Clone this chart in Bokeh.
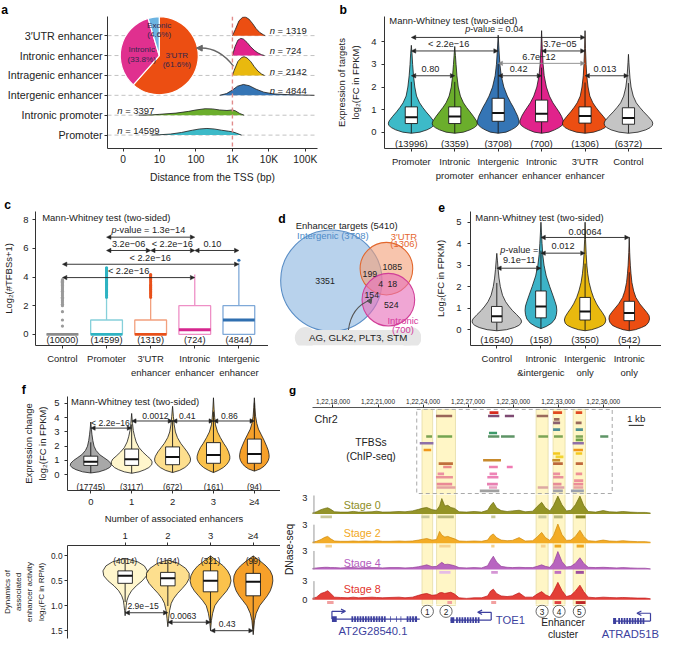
import math
from bokeh.plotting import figure
from bokeh.models import (Range1d, FixedTicker, Label, Arrow, NormalHead, OpenHead, Title,
                          LinearAxis, ColumnDataSource, PrintfTickFormatter, Span)
from bokeh.layouts import row, column
from bokeh.embed import file_html
from bokeh.resources import INLINE
from bokeh.core.properties import value

# ======================= DATA =======================
# ---- panel a ----
a_cats = ["Promoter", "Intronic promoter", "Intergenic enhancer", "Intragenic enhancer",
          "Intronic enhancer", "3′UTR enhancer"]
a_n = [14599, 3397, 4844, 2142, 724, 1319]
a_colors = ["#3DBAC8", "#6BAE2C", "#3575B5", "#E9B90E", "#E1238B", "#EC4E12"]
a_xticks = [0, 1, 2, 3, 4, 5]
a_xtick_labels = ["0", "10", "100", "1K", "10K", "100K"]
a_ridge_x = [
    [0.78, 1.0, 1.3, 1.6, 1.9, 2.1, 2.3, 2.5, 2.7, 2.9, 3.0, 3.1, 3.25],
    [0.43, 0.8, 1.0, 1.45, 1.8, 2.0, 2.25, 2.45, 2.65, 2.85, 3.0, 3.08, 3.2, 3.32],
    [2.65, 2.84, 3.0, 3.14, 3.3, 3.46, 3.65, 3.86, 4.13, 4.5, 4.9, 5.25],
    [3.0, 3.05, 3.15, 3.25, 3.32, 3.4, 3.5, 3.6, 3.7, 3.8, 3.88],
    [3.0, 3.07, 3.15, 3.23, 3.3, 3.4, 3.5, 3.6, 3.7, 3.8, 3.88],
    [3.0, 3.08, 3.18, 3.28, 3.35, 3.45, 3.55, 3.65, 3.75, 3.85, 3.9],
]
a_ridge_h = [
    [0, 0.02, 0.06, 0.15, 0.28, 0.35, 0.38, 0.35, 0.28, 0.22, 0.19, 0.12, 0],
    [0, 0.02, 0.05, 0.12, 0.22, 0.3, 0.37, 0.36, 0.3, 0.27, 0.3, 0.25, 0.1, 0],
    [0, 0.1, 0.3, 0.52, 0.62, 0.55, 0.35, 0.18, 0.08, 0.04, 0.02, 0],
    [0, 0.3, 0.8, 1.02, 1.07, 1.0, 0.8, 0.5, 0.25, 0.08, 0],
    [0, 0.5, 0.88, 0.98, 0.94, 0.75, 0.5, 0.3, 0.15, 0.05, 0],
    [0, 0.35, 0.85, 1.05, 1.07, 0.95, 0.7, 0.4, 0.18, 0.05, 0],
]
pie_labels = ["3′UTR", "Intronic", "Exonic"]
pie_pct = [61.6, 33.8, 4.6]
pie_colors = ["#EC4E12", "#E0308F", "#6CB4E2"]

# ---- panel b ----
b_cats = ["Promoter", "Intronic\npromoter", "Intergenic\nenhancer", "Intronic\nenhancer",
          "3′UTR\nenhancer", "Control"]
b_counts = [13996, 3359, 3708, 700, 1306, 6372]
b_colors = ["#3DBAC8", "#6BAE2C", "#3575B5", "#E1238B", "#EC4E12", "#C4C4C4"]
b_q1 = [0.38, 0.38, 0.48, 0.46, 0.40, 0.35]
b_med = [0.66, 0.69, 0.85, 0.82, 0.72, 0.63]
b_q3 = [1.12, 1.12, 1.50, 1.42, 1.12, 1.08]
b_vy = [
    [-0.05, 0.0, 0.1, 0.2, 0.3, 0.4, 0.5, 0.7, 0.9, 1.1, 1.3, 1.6, 2.0, 2.5, 3.0, 3.5, 3.85],
    [-0.05, 0.0, 0.1, 0.2, 0.3, 0.4, 0.5, 0.7, 0.9, 1.1, 1.3, 1.6, 2.0, 2.5, 3.0, 3.4, 3.8],
    [-0.05, 0.0, 0.1, 0.2, 0.3, 0.4, 0.5, 0.7, 0.9, 1.1, 1.3, 1.6, 2.0, 2.5, 3.0, 3.6, 4.3],
    [-0.05, 0.0, 0.1, 0.2, 0.3, 0.4, 0.5, 0.7, 0.9, 1.1, 1.3, 1.6, 2.0, 2.5, 3.0, 3.7, 4.5],
    [-0.05, 0.0, 0.1, 0.2, 0.3, 0.4, 0.5, 0.7, 0.9, 1.1, 1.3, 1.6, 2.0, 2.5, 3.0, 3.7, 4.5],
    [-0.05, 0.0, 0.1, 0.2, 0.3, 0.4, 0.5, 0.7, 0.9, 1.1, 1.3, 1.6, 2.0, 2.4, 2.8, 3.1, 3.45],
]
b_vw = [
    [0, 0.2, 0.36, 0.46, 0.52, 0.53, 0.51, 0.43, 0.34, 0.26, 0.19, 0.12, 0.08, 0.05, 0.03, 0.015, 0],
    [0, 0.2, 0.35, 0.45, 0.51, 0.52, 0.5, 0.43, 0.35, 0.27, 0.2, 0.13, 0.08, 0.05, 0.03, 0.015, 0],
    [0, 0.18, 0.3, 0.39, 0.45, 0.48, 0.48, 0.45, 0.4, 0.35, 0.29, 0.21, 0.13, 0.07, 0.04, 0.02, 0],
    [0, 0.17, 0.3, 0.4, 0.47, 0.5, 0.5, 0.46, 0.4, 0.33, 0.26, 0.18, 0.11, 0.06, 0.035, 0.015, 0],
    [0, 0.2, 0.36, 0.46, 0.51, 0.52, 0.5, 0.42, 0.33, 0.25, 0.18, 0.11, 0.07, 0.04, 0.025, 0.01, 0],
    [0, 0.22, 0.4, 0.5, 0.55, 0.56, 0.54, 0.45, 0.35, 0.26, 0.18, 0.11, 0.06, 0.035, 0.02, 0.01, 0],
]
b_cmp_x0 = [0, 2, 4, 2, 0, 3, 0]
b_cmp_x1 = [1, 3, 5, 4, 2, 4, 4]
b_cmp_y = [2.5, 2.5, 2.5, 3.05, 3.6, 3.6, 4.2]
b_cmp_col = ["#222222", "#222222", "#222222", "#888888", "#222222", "#222222", "#222222"]
b_cmp_text = ["0.80", "0.42", "0.013", "6.7e−12", "< 2.2e−16", "3.7e−05", "p-value = 0.04"]
b_cmp_lx = [0.44, 2.47, 4.46, 2.94, 0.86, 3.42, 1.9]
b_cmp_ly = [2.78, 2.78, 2.78, 3.33, 3.9, 3.9, 4.56]

# ---- panel c ----
c_cats = ["Control", "Promoter", "3′UTR\nenhancer", "Intronic\nenhancer", "Intergenic\nenhancer"]
c_counts = [10000, 14599, 1319, 724, 4844]
c_q1 = [0, 0, 0, 0, 0]
c_med = [0, 0, 0, 0.32, 1.0]
c_q3 = [0, 1, 1, 2, 2]
c_whi = [0, 2.5, 2.5, 4.17, 5.0]
c_line = ["#9E9E9E", "#86D0DA", "#F2A07E", "#EE90C6", "#7FA9D8"]
c_medc = ["#8C8C8C", "#2FB3C2", "#E8501A", "#D6268E", "#2F6FB0"]
c_out = [
    [0.58, 1.0, 1.58, 2.0, 2.1, 2.2, 2.32, 2.4, 2.5, 2.58, 2.7, 2.81, 2.9, 3.0, 3.1, 3.17, 3.25,
     3.32, 3.4, 3.46, 3.52, 3.58, 3.64, 3.7, 3.75, 3.81],
    [2.58, 2.7, 2.81, 2.9, 3.0, 3.1, 3.17, 3.25, 3.32, 3.4, 3.46, 3.52, 3.58, 3.64, 3.7, 3.75,
     3.81, 3.87, 3.91, 3.95, 4.0, 4.09, 4.17, 4.25, 4.32, 4.39, 4.46, 4.52, 4.58, 4.64],
    [2.58, 2.7, 2.81, 2.9, 3.0, 3.1, 3.17, 3.25, 3.32, 3.4, 3.46, 3.58, 3.7, 3.81, 3.91, 4.0,
     4.09, 4.17],
    [],
    [5.17],
]
c_cmp_x0 = [0, 0, 1, 2, 3, 1]
c_cmp_x1 = [3, 4, 2, 3, 4, 3]
c_cmp_y = [3.96, 4.89, 5.85, 5.85, 5.85, 6.78]
c_cmp_text = ["< 2.2e−16", "< 2.2e−16", "3.2e−06", "< 2.2e−16", "0.10", "p-value = 1.3e−14"]
c_cmp_lx = [1.5, 1.99, 1.5, 2.49, 3.4, 1.94]
c_cmp_ly = [4.39, 5.3, 6.28, 6.28, 6.28, 7.27]

# ---- panel d ----
d_sets = ["Intergenic (3708)", "3′UTR\n(1306)", "Intronic\n(700)"]
d_fill = ["#8DB6E0", "#F4A27A", "#E670BA"]
d_edge = ["#5A8EC6", "#E2682E", "#D13F98"]
d_text_col = ["#4E8BC8", "#E5662E", "#D6379C"]
d_counts = [3351, 199, 1085, 4, 18, 154, 524]
d_genes = "AG, GLK2, PLT3, STM"

# ---- panel e ----
e_cats = ["Control", "Intronic\n&intergenic", "Intergenic\nonly", "Intronic\nonly"]
e_counts = [16540, 158, 3550, 542]
e_colors = ["#C4C4C4", "#3DB3C8", "#E9B90E", "#EC4E12"]
e_q1 = [0.35, 0.55, 0.45, 0.42]
e_med = [0.62, 1.08, 0.85, 0.78]
e_q3 = [1.08, 1.8, 1.5, 1.32]
e_vy = [
    [-0.05, 0.0, 0.1, 0.2, 0.3, 0.4, 0.5, 0.7, 0.9, 1.1, 1.3, 1.6, 2.0, 2.4, 2.8, 3.2, 3.55],
    [0.05, 0.15, 0.3, 0.5, 0.7, 0.9, 1.1, 1.3, 1.6, 2.0, 2.5, 3.0, 3.5, 4.0, 4.5, 5.0],
    [-0.05, 0.0, 0.1, 0.2, 0.3, 0.45, 0.6, 0.8, 1.0, 1.2, 1.5, 1.8, 2.2, 2.6, 3.0, 3.5, 4.2, 5.0],
    [-0.05, 0.0, 0.1, 0.2, 0.35, 0.5, 0.65, 0.8, 1.0, 1.2, 1.5, 1.8, 2.2, 2.6, 3.0, 3.6, 4.3],
]
e_vw = [
    [0, 0.22, 0.4, 0.5, 0.55, 0.56, 0.54, 0.45, 0.35, 0.27, 0.2, 0.13, 0.08, 0.05, 0.03, 0.015, 0],
    [0, 0.12, 0.24, 0.32, 0.35, 0.36, 0.35, 0.32, 0.27, 0.2, 0.12, 0.07, 0.04, 0.025, 0.012, 0],
    [0, 0.15, 0.3, 0.4, 0.45, 0.47, 0.45, 0.39, 0.32, 0.26, 0.19, 0.14, 0.09, 0.06, 0.04, 0.025, 0.01, 0],
    [0, 0.14, 0.28, 0.38, 0.44, 0.46, 0.45, 0.4, 0.32, 0.24, 0.15, 0.1, 0.06, 0.04, 0.025, 0.01, 0],
]
e_cmp_x0 = [0, 1, 1]
e_cmp_x1 = [1, 2, 3]
e_cmp_y = [2.86, 3.56, 4.29]
e_cmp_text = ["9.1e−11", "0.012", "0.00064"]
e_cmp_lx = [0.51, 1.5, 2.0]
e_cmp_ly = [3.25, 3.87, 4.55]

# ---- panel f (top) ----
f_cats = ["0", "1", "2", "3", "≥4"]
f_counts = [17745, 3117, 672, 161, 94]
f_colors = ["#A8A8A8", "#FFF6CC", "#FDDF8E", "#FBC24C", "#F6A02A"]
f_q1 = [0.65, 0.65, 0.7, 0.8, 0.8]
f_med = [0.9, 1.08, 1.25, 1.38, 1.45]
f_q3 = [1.3, 1.8, 1.95, 2.25, 2.5]
f_vy = [
    [0.12, 0.2, 0.35, 0.5, 0.65, 0.8, 1.0, 1.2, 1.4, 1.7, 2.0, 2.4, 2.8, 3.2, 3.7],
    [0.1, 0.2, 0.35, 0.5, 0.7, 0.9, 1.1, 1.3, 1.6, 1.9, 2.3, 2.7, 3.1, 3.6, 4.3],
    [0.15, 0.3, 0.5, 0.7, 0.9, 1.1, 1.3, 1.6, 1.9, 2.2, 2.6, 3.0, 3.5, 4.1, 4.8],
    [0.15, 0.3, 0.5, 0.7, 0.9, 1.1, 1.3, 1.6, 1.9, 2.2, 2.6, 3.0, 3.5, 4.0, 4.6, 5.4],
    [0.25, 0.4, 0.6, 0.8, 1.0, 1.2, 1.4, 1.7, 2.0, 2.4, 2.8, 3.2, 3.6, 4.1, 4.7, 5.4],
]
f_vw = [
    [0, 0.2, 0.36, 0.46, 0.5, 0.49, 0.42, 0.32, 0.22, 0.13, 0.08, 0.05, 0.03, 0.015, 0],
    [0, 0.18, 0.32, 0.42, 0.49, 0.5, 0.46, 0.38, 0.27, 0.18, 0.11, 0.07, 0.04, 0.02, 0],
    [0, 0.17, 0.3, 0.38, 0.43, 0.44, 0.42, 0.36, 0.28, 0.2, 0.12, 0.07, 0.04, 0.02, 0],
    [0, 0.12, 0.24, 0.32, 0.37, 0.4, 0.4, 0.37, 0.32, 0.25, 0.17, 0.1, 0.05, 0.03, 0.015, 0],
    [0, 0.14, 0.24, 0.3, 0.34, 0.36, 0.36, 0.34, 0.3, 0.24, 0.17, 0.1, 0.06, 0.03, 0.015, 0],
]
f_cmp_x0 = [0, 1, 2, 3]
f_cmp_x1 = [1, 2, 3, 4]
f_cmp_y = [3.27, 3.77, 3.77, 3.77]
f_cmp_text = ["< 2.2e−16", "0.0012", "0.41", "0.86"]
f_cmp_lx = [0.48, 1.58, 2.36, 3.39]
f_cmp_ly = [3.62, 4.12, 4.12, 4.12]

# ---- panel f (bottom) ----
fb_x = [1, 2, 3, 4]
fb_cats = ["1", "2", "3", "≥4"]
fb_counts = [4014, 1134, 321, 99]
fb_colors = ["#FFF6CC", "#FDDF8E", "#FBC24C", "#F6A02A"]
fb_q1 = [0.3, 0.33, 0.3, 0.35]
fb_med = [0.4, 0.45, 0.5, 0.52]
fb_q3 = [0.55, 0.6, 0.72, 0.8]
fb_vy = [
    [0.05, 0.12, 0.2, 0.3, 0.4, 0.5, 0.6, 0.7, 0.8, 0.9, 1.0, 1.1, 1.2],
    [0.08, 0.15, 0.25, 0.35, 0.45, 0.55, 0.65, 0.75, 0.85, 0.95, 1.1, 1.25, 1.42],
    [0.0, 0.1, 0.2, 0.3, 0.4, 0.5, 0.6, 0.7, 0.8, 0.9, 1.0, 1.15, 1.3, 1.5],
    [0.0, 0.1, 0.2, 0.3, 0.4, 0.5, 0.6, 0.7, 0.8, 0.9, 1.0, 1.15, 1.3, 1.58],
]
fb_vw = [
    [0, 0.3, 0.45, 0.52, 0.5, 0.4, 0.26, 0.15, 0.08, 0.04, 0.025, 0.012, 0],
    [0, 0.25, 0.42, 0.5, 0.5, 0.44, 0.34, 0.23, 0.14, 0.08, 0.04, 0.02, 0],
    [0, 0.15, 0.3, 0.4, 0.46, 0.48, 0.45, 0.38, 0.28, 0.18, 0.1, 0.05, 0.02, 0],
    [0, 0.16, 0.3, 0.4, 0.45, 0.46, 0.44, 0.4, 0.33, 0.24, 0.15, 0.07, 0.03, 0],
]
fb_cmp_x0 = [1, 2, 3]
fb_cmp_x1 = [2, 3, 4]
fb_cmp_y = [1.14, 1.33, 1.5]
fb_cmp_text = ["2.9e−15", "0.0063", "0.43"]
fb_cmp_lx = [1.42, 2.36, 3.39]
fb_cmp_ly = [1.0, 1.2, 1.36]

# ---- panel g ----  (positions in kb on chr2)
g_ticks = [12218, 12221, 12224, 12227, 12230, 12233, 12236]
g_tick_labels = ["1,22,18,000", "1,22,21,000", "1,22,24,000", "1,22,27,000",
                 "1,22,30,000", "1,22,33,000", "1,22,36,000"]
g_hl_start = [12223.93, 12224.90, 12231.53, 12232.66, 12234.00]
g_hl_end = [12224.64, 12226.16, 12232.33, 12233.46, 12234.82]
tf_lane = [0, 0, 0, 1, 1, 1, 1, 2, 3, 3, 5, 5, 6,
           7, 7, 7, 7, 7, 7, 7, 7, 8, 9, 9, 11, 11, 12, 12, 13, 14, 14, 15, 15, 15,
           16, 16, 16, 18, 18, 18, 18, 19, 19, 19, 20, 21, 21, 21, 21,
           22, 22, 22, 22, 22, 23, 23, 23]
tf_start = [12228.43, 12232.66, 12234.17, 12224.86, 12228.33, 12229.45, 12231.57, 12232.72,
            12232.66, 12234.17, 12232.66, 12234.17, 12228.39,
            12224.21, 12224.97, 12228.33, 12229.19, 12231.68, 12232.72, 12234.17, 12235.80,
            12234.17, 12223.78, 12233.96, 12224.04, 12234.02, 12232.66, 12234.17, 12232.83,
            12228.00, 12232.61, 12225.04, 12232.66, 12234.17,
            12225.34, 12228.39, 12229.58, 12224.97, 12228.43, 12232.66, 12234.17,
            12224.86, 12228.28, 12232.66, 12234.06, 12224.91, 12228.26, 12232.66, 12234.02,
            12224.91, 12228.39, 12231.64, 12232.66, 12234.02, 12227.78, 12232.66, 12233.85]
tf_end = [12229.02, 12233.26, 12234.60, 12225.94, 12229.08, 12230.06, 12232.33, 12233.09,
          12233.13, 12234.56, 12233.13, 12234.65, 12228.93,
          12224.60, 12225.94, 12229.08, 12230.10, 12232.33, 12233.31, 12234.65, 12236.34,
          12234.65, 12224.69, 12234.71, 12224.54, 12234.65, 12233.13, 12234.60, 12233.35,
          12229.19, 12233.13, 12225.99, 12233.31, 12234.65,
          12225.90, 12228.98, 12229.97, 12225.40, 12228.93, 12233.13, 12234.60,
          12225.99, 12229.02, 12233.35, 12234.67, 12225.94, 12228.98, 12233.22, 12234.67,
          12226.16, 12228.93, 12232.33, 12233.41, 12234.67, 12229.08, 12233.31, 12234.71]
tf_color = ["#D62B1F", "#E04A22", "#E04A22", "#9A6558", "#7E4C74", "#7E4A72", "#9A6A5C", "#9A6A5C",
            "#8A6070", "#9A6A5C", "#4E8E96", "#4E9090", "#3E9A6A",
            "#7AA252", "#74A450", "#5E9466", "#5E9466", "#7CA456", "#7CA456", "#7CA456", "#5E9466",
            "#70A448", "#8E70A8", "#9070A8", "#F0961A", "#F0961A", "#F4C820", "#F4C820", "#F2D430",
            "#C88A2C", "#C8902C", "#C0703C", "#BC683C", "#C0683C",
            "#EC8C8C", "#EE80B0", "#F07AB2", "#EC90A2", "#EE84B6", "#EC90A0", "#EE9096",
            "#EA929A", "#EC80B6", "#E8909C", "#EE909A", "#EA8A96", "#E880B2", "#E68C98", "#EC8C98",
            "#E4A2A2", "#E8A2C2", "#DCA8A2", "#DCA2AA", "#E8A2A2", "#A0A0A0", "#A2A2AA", "#9CA2B0"]

trk_names = ["Stage 0", "Stage 2", "Stage 4", "Stage 8"]
trk_fill = ["#8E8E1E", "#F2A81C", "#B45CBE", "#E2352E"]
trk_edge = ["#6E6E10", "#D08A08", "#944098", "#C01818"]
trk_pos = [12216.6, 12216.9, 12217.2, 12217.45, 12217.65, 12217.85, 12218.1, 12218.5, 12219.0,
           12219.35, 12219.7, 12220.2, 12220.6, 12220.9, 12221.3, 12221.8, 12222.4, 12222.8,
           12223.3, 12223.7, 12224.0, 12224.25, 12224.6, 12224.9, 12225.1, 12225.25, 12225.45,
           12225.65, 12225.85, 12226.1, 12226.4, 12226.9, 12227.4, 12227.9, 12228.3, 12228.5,
           12228.68, 12228.9, 12229.2, 12229.6, 12229.95, 12230.4, 12230.8, 12231.3, 12231.6,
           12231.9, 12232.15, 12232.45, 12232.7, 12232.98, 12233.25, 12233.55, 12233.85,
           12234.15, 12234.45, 12234.7, 12235.0, 12235.5, 12236.0, 12236.4, 12236.9, 12237.3,
           12237.8, 12238.3, 12238.8, 12239.15]
trk_s0 = [0.15, 0.35, 0.7, 0.9, 1.0, 0.75, 0.35, 0.3, 0.3, 0.42, 0.3, 0.32, 0.35, 0.45, 0.3, 0.32,
          0.4, 0.35, 0.5, 0.75, 0.95, 1.05, 0.7, 0.6, 1.3, 2.5, 1.3, 1.4, 1.05, 0.9, 0.35, 0.3,
          0.4, 0.3, 0.6, 1.4, 1.9, 1.0, 0.55, 0.4, 0.5, 0.6, 0.35, 0.45, 1.2, 1.9, 1.0, 0.5,
          1.4, 2.9, 1.5, 0.5, 0.6, 1.5, 2.9, 1.4, 0.4, 0.3, 0.55, 0.35, 0.3, 0.4, 0.3, 0.25,
          0.25, 0.15]
trk_s2 = [0.15, 0.3, 0.6, 0.95, 1.1, 0.7, 0.35, 0.3, 0.3, 0.35, 0.3, 0.35, 0.3, 0.4, 0.3, 0.3,
          0.35, 0.3, 0.35, 0.5, 0.65, 0.75, 0.5, 0.6, 1.9, 1.3, 1.0, 1.1, 0.9, 0.7, 0.35, 0.3,
          0.35, 0.3, 0.5, 1.2, 1.5, 0.9, 0.5, 0.4, 0.45, 0.9, 0.35, 0.4, 1.0, 1.75, 0.9, 0.45,
          1.3, 3.1, 1.4, 0.45, 0.5, 1.1, 2.1, 1.1, 0.4, 0.3, 0.5, 0.35, 0.3, 0.4, 0.3, 0.25,
          0.25, 0.15]
trk_s4 = [0.15, 0.25, 0.3, 0.35, 0.35, 0.3, 0.3, 0.25, 0.3, 0.3, 0.25, 0.3, 0.3, 0.3, 0.25, 0.3,
          0.3, 0.25, 0.3, 0.45, 0.6, 0.75, 0.45, 0.5, 0.9, 1.15, 0.8, 0.85, 0.75, 0.6, 0.3, 0.25,
          0.3, 0.25, 0.6, 1.5, 2.15, 1.2, 0.5, 0.35, 0.3, 0.35, 0.3, 0.3, 0.5, 0.75, 0.5, 0.35,
          1.1, 2.9, 1.3, 0.4, 0.5, 1.0, 1.9, 1.0, 0.35, 0.3, 0.35, 0.3, 0.25, 0.3, 0.25, 0.2,
          0.2, 0.1]
trk_s8 = [0.2, 0.4, 1.0, 1.2, 1.45, 1.0, 0.4, 0.35, 0.3, 0.4, 0.3, 0.35, 0.4, 0.35, 0.3, 0.35,
          0.4, 0.3, 0.4, 0.7, 0.9, 1.0, 0.7, 0.8, 1.1, 1.15, 1.0, 1.1, 1.2, 0.9, 0.3, 0.2,
          0.3, 0.3, 0.6, 1.4, 1.7, 1.0, 0.6, 0.5, 0.6, 1.1, 0.4, 0.4, 0.9, 1.3, 0.8, 0.45,
          1.4, 2.8, 1.5, 0.5, 0.7, 1.4, 2.35, 1.3, 0.4, 0.3, 0.4, 0.35, 0.3, 0.35, 0.3, 0.25,
          0.25, 0.15]
trk_vals = [trk_s0, trk_s2, trk_s4, trk_s8]
blk_track = [0, 0, 0, 0, 0, 0, 0, 1, 1, 1, 1, 1, 1, 2, 2, 2, 2, 3, 3, 3, 3, 3]
blk_start = [12217.17, 12223.89, 12224.97, 12228.54, 12231.68, 12232.72, 12234.17,
             12217.50, 12225.08, 12228.54, 12231.85, 12232.76, 12234.23,
             12225.08, 12228.54, 12232.76, 12234.17,
             12217.61, 12225.62, 12228.54, 12232.76, 12234.17]
blk_end = [12217.93, 12224.43, 12226.05, 12228.82, 12232.22, 12233.30, 12234.82,
           12217.93, 12225.83, 12228.76, 12232.16, 12233.20, 12234.71,
           12225.83, 12228.98, 12233.20, 12234.71,
           12218.04, 12225.93, 12228.87, 12233.20, 12234.82]
blk_color = ["#C9C99A", "#C9C99A", "#B8B87A", "#C9C99A", "#C9C99A", "#B8B87A", "#8C8C2A",
             "#F6D28E", "#F6D28E", "#F6D28E", "#F6D28E", "#F0A820", "#F0A820",
             "#E6BCE6", "#D596D5", "#C070C0", "#9E4E9E",
             "#F2A0A0", "#F2A0A0", "#F2A0A0", "#E04040", "#C02828"]

gene_names = ["AT2G28540.1", "TOE1", "ATRAD51B"]
gene_start = [12217.93, 12225.83, 12236.66]
gene_end = [12223.78, 12228.54, 12239.15]
gene_strand = [1, -1, -1]
gene_exons = [
    [(12217.93, 12218.25), (12219.23, 12219.35), (12219.41, 12219.53), (12219.59, 12219.71),
     (12219.77, 12219.89), (12219.95, 12220.07), (12220.13, 12220.25), (12220.31, 12220.43),
     (12220.49, 12220.61), (12220.67, 12220.79), (12220.85, 12220.97), (12221.03, 12221.15),
     (12221.21, 12221.33), (12221.39, 12221.51), (12221.80, 12221.85), (12222.20, 12222.25),
     (12222.50, 12222.55), (12222.91, 12223.03), (12223.09, 12223.21), (12223.27, 12223.39),
     (12223.45, 12223.60)],
    [(12225.83, 12226.08), (12226.20, 12226.32), (12226.38, 12226.50), (12226.56, 12226.68),
     (12226.74, 12226.86), (12226.92, 12227.04), (12227.10, 12227.22), (12227.28, 12227.40),
     (12227.46, 12227.58), (12227.64, 12227.76)],
    [(12236.66, 12236.86), (12237.00, 12237.12), (12237.18, 12237.30), (12237.36, 12237.48),
     (12237.54, 12237.66), (12237.72, 12237.84), (12237.90, 12238.02), (12238.08, 12238.20),
     (12238.26, 12238.38), (12238.44, 12238.56), (12238.62, 12238.74)],
]

# ======================= HELPERS =======================
S = 641 / 657
FONT = "Liberation Sans"
INK = "#222222"


def fs(px):
    return f"{px * S:.2f}px"


CW = {' ': .278, '.': .278, '-': .333, '=': .584, '<': .584, '−': .584, 'l': .222, 'i': .222,
      '(': .333, ')': .333, 'v': .5, 'e': .556, 'a': .556, 'u': .556}


def tw(s):
    return sum(CW.get(c, .556) for c in s)


def style_ax(ax, size=9.7):
    ax.axis_line_color = "#333333"
    ax.axis_line_width = 1
    ax.major_tick_line_color = "#333333"
    ax.major_tick_out = 3
    ax.major_tick_in = 0
    ax.minor_tick_line_color = None
    ax.major_label_text_font = FONT
    ax.major_label_text_font_size = fs(size)
    ax.major_label_text_color = INK
    ax.major_label_standoff = 2
    ax.axis_label_text_font = FONT
    ax.axis_label_text_font_style = "normal"
    ax.axis_label_text_font_size = fs(9.7)
    ax.axis_label_text_color = INK
    ax.axis_label_standoff = 4


class Pan:
    def __init__(self, ox, oy, W, H, fl, fr, ft, fb, xr, yr, xloc="below", yloc="left"):
        self.fl, self.fr, self.ft, self.fb = fl, fr, ft, fb
        self.xr, self.yr = xr, yr
        p = figure(width=round(W * S), height=round(H * S),
                   x_range=Range1d(*xr), y_range=Range1d(*yr),
                   min_border_left=round((fl - ox) * S), min_border_right=round((ox + W - fr) * S),
                   min_border_top=round((ft - oy) * S), min_border_bottom=round((oy + H - fb) * S),
                   x_axis_location=xloc, y_axis_location=yloc,
                   output_backend="svg", toolbar_location=None)
        p.grid.visible = False
        p.outline_line_color = None
        for ax in list(p.xaxis) + list(p.yaxis):
            style_ax(ax)
        self.p = p

    def X(self, px):
        return self.xr[0] + (px - self.fl) * (self.xr[1] - self.xr[0]) / (self.fr - self.fl)

    def Y(self, py):
        return self.yr[0] + (self.fb - py) * (self.yr[1] - self.yr[0]) / (self.fb - self.ft)

    def dX(self, dpx):
        return dpx * (self.xr[1] - self.xr[0]) / (self.fr - self.fl)


def lab(pn, x, y, text, size=9.7, color=INK, align="center", baseline="middle", angle=0.0,
        style="normal"):
    pn.p.add_layout(Label(x=x, y=y, text=text, text_font=FONT, text_font_size=fs(size),
                          text_color=color, text_align=align, text_baseline=baseline,
                          angle=angle, text_font_style=style))


def ilab(pn, x, y, first, rest, size=9.4, align="center", color=INK):
    lead = len(rest) - len(rest.lstrip(" "))
    body = rest.lstrip(" ")
    w1 = (tw(first) + lead * 0.278) * size
    wt = w1 + tw(body) * size
    x0 = x - pn.dX(wt / 2) if align == "center" else x
    lab(pn, x0, y, first, size, color, align="left", style="italic")
    lab(pn, x0 + pn.dX(w1), y, body, size, color, align="left")


def letter_title(pn, gx, t, size=12.5):
    tt = pn.p.title
    tt.text = t
    tt.align = "left"
    tt.offset = (gx - pn.fl) * S
    tt.text_font = FONT
    tt.text_font_size = fs(size)
    tt.text_font_style = "bold"
    tt.text_color = "#000000"
    tt.standoff = 0


def left_title(pn, text, size=9.7, standoff=1):
    pn.p.add_layout(Title(text=text, align="center", text_font=FONT, text_font_size=fs(size),
                          text_font_style="normal", text_color=INK, standoff=standoff), "left")


def cat_axes(pn, xs, cats, size=9.7, standoff=4):
    l1 = {x: c.split("\n")[0] for x, c in zip(xs, cats)}
    l2 = {x: (c.split("\n")[1] if "\n" in c else "") for x, c in zip(xs, cats)}
    ax = pn.p.xaxis[0]
    ax.ticker = FixedTicker(ticks=xs)
    ax.major_label_overrides = l1
    ax.major_label_standoff = standoff
    ax2 = LinearAxis(ticker=FixedTicker(ticks=xs), major_label_overrides=l2)
    style_ax(ax2, size)
    ax2.axis_line_color = None
    ax2.major_tick_line_color = None
    ax2.major_tick_out = 0
    ax2.major_label_standoff = 0
    pn.p.add_layout(ax2, "below")


def draw_violins(pn, xs, vys, vws, q1, med, q3, colors, bw):
    p = pn.p
    pxs = [[x + w for w in vw] + [x - w for w in vw[::-1]] for x, vw in zip(xs, vws)]
    pys = [list(vy) + list(vy[::-1]) for vy in vys]
    p.patches(pxs, pys, fill_color=colors, line_color="#1A1A1A", line_width=0.8)
    lo = [max(min(vy), a - 1.5 * (b - a)) for vy, a, b in zip(vys, q1, q3)]
    hi = [min(max(vy), b + 1.5 * (b - a)) for vy, a, b in zip(vys, q1, q3)]
    p.segment(x0=xs, y0=lo, x1=xs, y1=q1, line_color="#1A1A1A", line_width=0.9)
    p.segment(x0=xs, y0=q3, x1=xs, y1=hi, line_color="#1A1A1A", line_width=0.9)
    p.quad(left=[x - bw for x in xs], right=[x + bw for x in xs], bottom=q1, top=q3,
           fill_color="white", line_color="#1A1A1A", line_width=0.9)
    p.segment(x0=[x - bw for x in xs], y0=med, x1=[x + bw for x in xs], y1=med,
              line_color="#111111", line_width=2)


def draw_cmp(pn, x0, x1, y, colors=None):
    if colors is None:
        colors = ["#222222"] * len(x0)
    for col in sorted(set(colors)):
        idx = [i for i, c in enumerate(colors) if c == col]
        src = ColumnDataSource(dict(x0=[x0[i] for i in idx], x1=[x1[i] for i in idx],
                                    y=[y[i] for i in idx]))
        hs = 4.5 * S
        pn.p.add_layout(Arrow(source=src, x_start="x0", y_start="y", x_end="x1", y_end="y",
                              line_color=col, line_width=0.9,
                              start=NormalHead(size=hs, fill_color=col, line_color=col, line_width=0.5),
                              end=NormalHead(size=hs, fill_color=col, line_color=col, line_width=0.5)))


def cmp_labels(pn, lx, ly, texts, size=9.4):
    for x, y, t in zip(lx, ly, texts):
        if t.startswith("p-value"):
            ilab(pn, x, y, "p", t[1:], size)
        else:
            lab(pn, x, y, t, size)


def draw_counts(pn, xs, counts, ypx, size=9.5):
    pn.p.text(x=xs, y=[pn.Y(ypx)] * len(xs), text=[f"({c})" for c in counts],
              text_font=value(FONT), text_font_size=value(fs(size)), text_color=INK,
              text_align="center", text_baseline="middle")


# ======================= PANEL A =======================
A = Pan(0, 0, 340, 200, 110, 325, 15, 153, (-0.429, 5.335), (-0.673, 5.962))
RIDGE_SCALE = 0.88
pa = A.p
rows = list(range(len(a_cats)))
pa.segment(x0=[A.xr[0]] * 6, y0=rows, x1=[A.xr[1]] * 6, y1=rows,
           line_color="#BBBBBB", line_dash="4 3", line_width=0.9)
for i in reversed(rows):
    ys = [i + RIDGE_SCALE * h for h in a_ridge_h[i]]
    pa.patch(a_ridge_x[i], ys, fill_color=a_colors[i], line_color=None)
    pa.line(a_ridge_x[i], ys, line_color="#1A1A1A", line_width=0.8)
pa.add_layout(Span(location=3, dimension="height", line_color="#E08C8C", line_dash="4 3",
                   line_width=1.4))
cum = 0.0
w_start, w_end = [], []
for pct in pie_pct:
    w_start.append(math.pi / 2 - 2 * math.pi * cum / 100)
    cum += pct
    w_end.append(math.pi / 2 - 2 * math.pi * cum / 100)
pa.wedge(x=A.X(163), y=A.Y(56), radius=40 * S, radius_units="screen", start_angle=w_start,
         end_angle=w_end, direction="clock", fill_color=pie_colors, line_color="white",
         line_width=1.2)
pie_lab_pos = [(181, 56), (145, 50), (163, 24)]
for (gx, gy), name, pct in zip(pie_lab_pos, pie_labels, pie_pct):
    lab(A, A.X(gx), A.Y(gy), name, 8.3, "#33264D")
    lab(A, A.X(gx), A.Y(gy + 9.5), f"({pct}%)", 8.3, "#33264D")
pa.quadratic(x0=A.X(239), y0=A.Y(67), x1=A.X(204), y1=A.Y(48), cx=A.X(224), cy=A.Y(47),
             line_color="#666666", line_width=1.3)
pa.add_layout(Arrow(x_start=A.X(206), y_start=A.Y(48.1), x_end=A.X(201), y_end=A.Y(48),
                    line_alpha=0, end=NormalHead(size=6 * S, fill_color="#666666",
                                                 line_color="#666666")))
a_n_pos = [(120, 134), (120, 113), (276, 92), (276, 72), (276, 51), (276, 30)]
for (gx, gy), n in zip(a_n_pos, a_n):
    ilab(A, A.X(gx), A.Y(gy), "n", f" = {n}", 9.7, align="left")
pa.yaxis.ticker = FixedTicker(ticks=rows)
pa.yaxis.major_label_overrides = {i: a_cats[i] for i in rows}
pa.yaxis.major_label_text_font_size = fs(11)
pa.xaxis.ticker = FixedTicker(ticks=a_xticks)
pa.xaxis.major_label_overrides = {t: l for t, l in zip(a_xticks, a_xtick_labels)}
pa.xaxis.major_label_text_font_size = fs(10.5)
pa.xaxis.axis_label = "Distance from the TSS (bp)"
pa.xaxis.axis_label_text_font_size = fs(10.6)
letter_title(A, 1, "a")

# ======================= PANEL B =======================
B = Pan(340, 0, 338, 200, 388, 678, 15, 152, (-0.618, 5.784), (-0.726, 5.128))
pb = B.p
bx = list(range(len(b_cats)))
draw_violins(B, bx, b_vy, b_vw, b_q1, b_med, b_q3, b_colors, 0.14)
draw_counts(B, bx, b_counts, 147, 9.8)
draw_cmp(B, b_cmp_x0, b_cmp_x1, b_cmp_y, b_cmp_col)
cmp_labels(B, b_cmp_lx, b_cmp_ly, b_cmp_text)
pb.yaxis.ticker = FixedTicker(ticks=[0, 1, 2, 3, 4])
pb.yaxis.major_label_standoff = 5
pb.yaxis.axis_label = "log₂(FC in FPKM)"
pb.yaxis.axis_label_standoff = 7
left_title(B, "Expression of targets", 9.7, 2)
cat_axes(B, bx, b_cats)
lab(B, B.X(393), B.Y(19), "Mann-Whitney test (two-sided)", 9.7, align="left")
letter_title(B, 342, "b")

# ======================= PANEL C =======================
C = Pan(0, 200, 275, 190, 33, 275, 215, 359, (-0.611, 4.672), (-0.779, 8.571))
pc = C.p
cx_ = list(range(len(c_cats)))
bwc = 0.36
pc.segment(x0=cx_, y0=c_q3, x1=cx_, y1=c_whi, line_color=c_line, line_width=1.3)
pc.quad(left=[x - bwc for x in cx_], right=[x + bwc for x in cx_], bottom=c_q1, top=c_q3,
        fill_color="white", line_color=c_line, line_width=1.3)
pc.segment(x0=[x - bwc for x in cx_], y0=c_med, x1=[x + bwc for x in cx_], y1=c_med,
           line_color=c_medc, line_width=2.8)
ox_, oy_, oc_ = [], [], []
for i, vals in enumerate(c_out):
    for v in vals:
        ox_.append(i)
        oy_.append(v)
        oc_.append(c_medc[i] if i > 0 else "#9A9A9A")
pc.scatter(x=ox_, y=oy_, marker="circle", size=3.3 * S, fill_color=oc_, line_color=None)
draw_counts(C, cx_, c_counts, 353, 9.5)
draw_cmp(C, c_cmp_x0, c_cmp_x1, c_cmp_y)
cmp_labels(C, c_cmp_lx, c_cmp_ly, c_cmp_text)
pc.yaxis.ticker = FixedTicker(ticks=[0, 2, 4, 6, 8])
pc.yaxis.major_label_standoff = 4
pc.yaxis.axis_label = "Log₂(#TFBSs+1)"
pc.yaxis.axis_label_standoff = 6
cat_axes(C, cx_, c_cats)
lab(C, C.X(40), C.Y(221), "Mann-Whitney test (two-sided)", 9.7, align="left")
letter_title(C, 1, "c")

# ======================= PANEL D =======================
D = Pan(275, 200, 157, 190, 275, 432, 200, 390, (275, 432), (390, 200), xloc=None, yloc=None)
pd_ = D.p
d_cx = [339.5, 396, 398]
d_cy = [298, 281, 325]
d_r = [52, 27, 27]
pd_.circle(x=d_cx, y=d_cy, radius=d_r, fill_color=d_fill, fill_alpha=0.62, line_color=d_edge,
           line_width=1.1)
d_pos_x = [333, 379, 402, 390, 402, 381, 401]
d_pos_y = [298, 288, 278, 303, 303, 318, 332]
pd_.text(x=d_pos_x, y=d_pos_y, text=[str(c) for c in d_counts], text_font=value(FONT),
         text_font_size=value(fs(9)), text_color=INK, text_align="center", text_baseline="middle")
lab(D, 303, 220, "Enhancer targets (5410)", 9.7, align="left")
lab(D, 341, 234.5, d_sets[0], 9.7, d_text_col[0])
for j, ln in enumerate(d_sets[1].split("\n")):
    lab(D, 414, 235 + 11 * j, ln, 9.7, d_text_col[1])
for j, ln in enumerate(d_sets[2].split("\n")):
    lab(D, 413, 355 + 12 * j, ln, 9.7, d_text_col[2])
pd_.quad(left=[313], right=[421], top=[368], bottom=[390], fill_color="#E6E6E6", line_color=None)
pd_.circle(x=[313, 421], y=[379, 379], radius=11, fill_color="#E6E6E6", line_color=None)
lab(D, 367, 379, d_genes, 10)
pd_.quadratic(x0=357, y0=368, x1=380, y1=325, cx=360, cy=335, line_color="#555555", line_width=1.1)
pd_.add_layout(Arrow(x_start=378.5, y_start=328, x_end=381, y_end=323, line_alpha=0,
                     end=NormalHead(size=5 * S, fill_color="#555555", line_color="#555555")))
lab(D, 285, 210, "d", 12.5, "#000000", align="left", style="bold")

# ======================= PANEL E =======================
E = Pan(432, 200, 246, 190, 482, 678, 215, 359, (-0.596, 3.731), (-0.736, 5.498))
pe = E.p
ex = list(range(len(e_cats)))
draw_violins(E, ex, e_vy, e_vw, e_q1, e_med, e_q3, e_colors, 0.12)
draw_counts(E, ex, e_counts, 353, 9.8)
draw_cmp(E, e_cmp_x0, e_cmp_x1, e_cmp_y)
cmp_labels(E, e_cmp_lx, e_cmp_ly, e_cmp_text)
ilab(E, 0.51, 3.72, "p", "-value =", 9.4)
pe.yaxis.ticker = FixedTicker(ticks=[0, 1, 2, 3, 4, 5])
pe.yaxis.major_label_standoff = 6
pe.yaxis.axis_label = "Log₂(FC in FPKM)"
pe.yaxis.axis_label_standoff = 7
cat_axes(E, ex, e_cats)
lab(E, E.X(487), E.Y(221), "Mann-Whitney test (two-sided)", 9.7, align="left")
letter_title(E, 449, "e")

# ======================= PANEL F (top) =======================
FT = Pan(0, 390, 287, 150, 49, 287, 405, 506, (-0.569, 4.639), (-1.111, 5.49))
pft = FT.p
fx = list(range(len(f_cats)))
draw_violins(FT, fx, f_vy, f_vw, f_q1, f_med, f_q3, f_colors, 0.17)
draw_counts(FT, fx, f_counts, 502, 8.5)
draw_cmp(FT, f_cmp_x0, f_cmp_x1, f_cmp_y)
cmp_labels(FT, f_cmp_lx, f_cmp_ly, f_cmp_text, 8.8)
pft.yaxis.ticker = FixedTicker(ticks=[0, 1, 2, 3, 4, 5])
pft.yaxis.major_label_standoff = 5
pft.yaxis.axis_label = "log₂(FC in FPKM)"
pft.yaxis.axis_label_standoff = 3
left_title(FT, "Expression change", 9.7, 1)
pft.xaxis.ticker = FixedTicker(ticks=fx)
pft.xaxis.major_label_overrides = {i: c for i, c in zip(fx, f_cats)}
pft.xaxis.axis_label = "Number of associated enhancers"
pft.xaxis.axis_label_standoff = 3
lab(FT, FT.X(53), FT.Y(410), "Mann-Whitney test (two-sided)", 9.7, align="left")
letter_title(FT, 2, "f")

# ======================= PANEL F (bottom) =======================
FB = Pan(0, 540, 287, 117, 59, 287, 557, 655, (-0.350, 4.639), (1.657, -0.2095), xloc="above")
pfb = FB.p
draw_violins(FB, fb_x, fb_vy, fb_vw, fb_q1, fb_med, fb_q3, fb_colors, 0.17)
draw_counts(FB, fb_x, fb_counts, 573, 8.5)
draw_cmp(FB, fb_cmp_x0, fb_cmp_x1, fb_cmp_y)
cmp_labels(FB, fb_cmp_lx, fb_cmp_ly, fb_cmp_text, 8.8)
pfb.yaxis.ticker = FixedTicker(ticks=[0, 0.5, 1.0, 1.5])
pfb.yaxis.formatter = PrintfTickFormatter(format="%.1f")
pfb.yaxis.major_label_text_font_size = fs(8.5)
pfb.yaxis.axis_label = "log₂(FC in RPM)"
pfb.yaxis.axis_label_text_font_size = fs(8.2)
pfb.yaxis.axis_label_standoff = 2
for ln in ["enhancer activity", "associated", "Dynamics of"]:
    left_title(FB, ln, 8.2, 0)
pfb.xaxis.ticker = FixedTicker(ticks=fb_x)
pfb.xaxis.major_label_overrides = {i: c for i, c in zip(fb_x, fb_cats)}

# ======================= PANEL G =======================
GXR = (12216.636, 12239.883)
GT = Pan(287, 390, 391, 117, 320, 678, 417, 507, GXR, (507, 417), xloc="above", yloc=None)
GM = Pan(287, 507, 391, 113, 320, 678, 507, 620, GXR, (620, 507), xloc=None, yloc="left")
GB = Pan(287, 620, 391, 37, 320, 678, 620, 657, GXR, (657, 620), xloc=None, yloc=None)
for pn in (GT, GM, GB):
    pn.p.quad(left=g_hl_start, right=g_hl_end, top=419, bottom=621, fill_color="#FFF6C6",
              line_color="#E4DCA6", line_width=0.8)
# -- top: axis + TFBSs
pgt = GT.p
pgt.quad(left=[12223.58], right=[12236.60], top=[419], bottom=[506], fill_color=None,
         line_color="#A8A8A8", line_dash="4 3", line_width=1)
lane_y = [422.3 + 3.52 * l for l in tf_lane]
pgt.quad(left=tf_start, right=tf_end, top=[y - 1.35 for y in lane_y],
         bottom=[y + 1.35 for y in lane_y], fill_color=tf_color, line_color=None)
lab(GT, GT.X(322), 429, "Chr2", 11, align="left")
lab(GT, GT.X(380), 453, "TFBSs", 10.5)
lab(GT, GT.X(380), 468, "(ChIP-seq)", 10.5)
pgt.segment(x0=[12237.7], y0=[435.5], x1=[12238.7], y1=[435.5], line_color=INK, line_width=1)
lab(GT, GT.X(652), 428, "1 kb", 10)
pgt.xaxis.ticker = FixedTicker(ticks=g_ticks)
pgt.xaxis.major_label_overrides = {t: l for t, l in zip(g_ticks, g_tick_labels)}
pgt.xaxis.major_label_text_font_size = fs(6.6)
pgt.xaxis.major_label_standoff = 1
pgt.xaxis.axis_line_color = "#555555"
letter_title(GT, 296, "g", 12)
# -- middle: DNase-seq tracks
pgm = GM.p
trk_base = [527, 557, 584, 615]
sc = 19.0 / 3
pgm.extra_y_ranges = {f"t{k}": Range1d((b - 620) / sc, (b - 507) / sc)
                      for k, b in enumerate(trk_base)}
for k in range(4):
    pgm.varea(x=trk_pos, y1=0, y2=trk_vals[k], y_range_name=f"t{k}", fill_color=trk_fill[k],
              fill_alpha=0.95)
    pgm.line(trk_pos, trk_vals[k], y_range_name=f"t{k}", line_color=trk_edge[k], line_width=0.7)
by = [trk_base[t] for t in blk_track]
pgm.quad(left=blk_start, right=blk_end, top=[b + 1.5 for b in by], bottom=[b + 4.5 for b in by],
         fill_color=blk_color, line_color=None)
ax_x = GM.X(321.5)
top3 = [b - 3 * sc for b in trk_base]
pgm.segment(x0=[ax_x] * 4, y0=trk_base, x1=[ax_x] * 4, y1=top3, line_color="#999999", line_width=1)
for k in range(4):
    lab(GM, GM.X(371), [518, 547, 577, 604][k], trk_names[k], 11, trk_fill[k])
ytk = top3 + [trk_base[3]]
pgm.yaxis.ticker = FixedTicker(ticks=ytk)
pgm.yaxis.major_label_overrides = {t: l for t, l in zip(ytk, ["3", "3", "3", "3", "0"])}
pgm.yaxis.axis_line_color = None
pgm.yaxis.major_tick_line_color = None
pgm.yaxis.major_tick_out = 0
pgm.yaxis.major_label_standoff = 5
pgm.yaxis.major_label_text_font_size = fs(9.5)
pgm.yaxis.axis_label = "DNase-seq"
pgm.yaxis.axis_label_text_font_size = fs(10.5)
pgm.yaxis.axis_label_standoff = 4
# -- bottom: enhancer numbers and genes
pgb = GB.p
hl_c = [(s + e) / 2 for s, e in zip(g_hl_start, g_hl_end)]
pgb.scatter(x=hl_c, y=[627] * 5, marker="circle", size=12.5 * S, fill_color="white",
            line_color="#444444", line_width=0.8)
pgb.text(x=hl_c, y=[627.3] * 5, text=[str(i + 1) for i in range(5)], text_font=value(FONT),
         text_font_size=value(fs(8.5)), text_color=INK, text_align="center", text_baseline="middle")
lab(GB, GB.X(577), 639, "Enhancer", 10.5)
lab(GB, GB.X(577), 650.5, "cluster", 10.5)
GENE = "#3C3F9E"
gene_y = [635, 636, 637]
pgb.segment(x0=gene_start, y0=gene_y, x1=gene_end, y1=gene_y, line_color=GENE, line_width=1.2)
ex_l, ex_r, ex_y = [], [], []
for gi, exs in enumerate(gene_exons):
    for s, e in exs:
        ex_l.append(s)
        ex_r.append(e)
        ex_y.append(gene_y[gi])
pgb.quad(left=ex_l, right=ex_r, top=[y - 3 for y in ex_y], bottom=[y + 3 for y in ex_y],
         fill_color=GENE, line_color=None)
for gi in range(3):
    tss = gene_start[gi] if gene_strand[gi] > 0 else gene_end[gi]
    yy = gene_y[gi]
    pgb.segment(x0=[tss], y0=[yy], x1=[tss], y1=[yy - 8], line_color=GENE, line_width=1.2)
    pgb.add_layout(Arrow(x_start=tss, y_start=yy - 8, x_end=tss + 0.9 * gene_strand[gi],
                         y_end=yy - 8, line_color=GENE, line_width=1.2,
                         end=OpenHead(size=4.5 * S, line_color=GENE, line_width=1.2)))
lab(GB, GB.X(382), 647, gene_names[0], 11.5, GENE)
lab(GB, GB.X(508), 636, gene_names[1], 11.5, GENE, align="left")
lab(GB, GB.X(646), 650, gene_names[2], 11.5, GENE)

# ======================= LAYOUT =======================
layout = column(row(A.p, B.p), row(C.p, D.p, E.p),
                row(column(FT.p, FB.p), column(GT.p, GM.p, GB.p)))
open("out.html", "w").write(file_html(layout, INLINE))
